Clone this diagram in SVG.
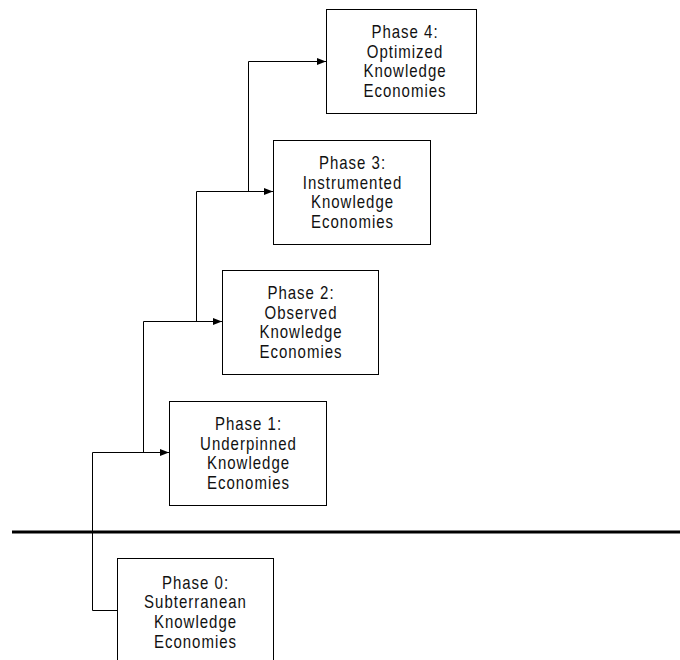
<svg xmlns="http://www.w3.org/2000/svg" width="680" height="660" viewBox="0 0 680 660">
<defs>
<marker id="arr" markerWidth="9" markerHeight="7" refX="9" refY="3.5" orient="auto" markerUnits="userSpaceOnUse">
<path d="M0,0 L9,3.5 L0,7 Z" fill="#000"/>
</marker>
<style>
.box{fill:#fff;stroke:#000;stroke-width:1}
.lbl{font-family:"Liberation Sans",Arial,sans-serif;font-size:15px;letter-spacing:1px;text-anchor:middle;fill:#111}
.con{fill:none;stroke:#000;stroke-width:1}
</style>
</defs>
<rect width="680" height="660" fill="#fff"/>
<line x1="12" y1="532" x2="680" y2="532" stroke="#000" stroke-width="3"/>
<g id="connectors">
<path class="con" d="M117.5,610.5 H92.5 V452.5 H169" marker-end="url(#arr)"/>
<path class="con" d="M143.5,452.5 V321.5 H222" marker-end="url(#arr)"/>
<path class="con" d="M196.5,321.5 V191.5 H273" marker-end="url(#arr)"/>
<path class="con" d="M248.5,191.5 V61.5 H326" marker-end="url(#arr)"/>
</g>
<g id="phase4">
<rect class="box" x="326.5" y="9.5" width="150" height="104"/>
<text class="lbl" transform="translate(405,38) scale(1,1.22)">Phase 4:</text>
<text class="lbl" transform="translate(405,57.7) scale(1,1.22)">Optimized</text>
<text class="lbl" transform="translate(405,77.4) scale(1,1.22)">Knowledge</text>
<text class="lbl" transform="translate(405,97.1) scale(1,1.22)">Economies</text>
</g>
<g id="phase3">
<rect class="box" x="273.5" y="140.5" width="157" height="104"/>
<text class="lbl" transform="translate(352.5,169) scale(1,1.22)">Phase 3:</text>
<text class="lbl" transform="translate(352.5,188.7) scale(1,1.22)">Instrumented</text>
<text class="lbl" transform="translate(352.5,208.4) scale(1,1.22)">Knowledge</text>
<text class="lbl" transform="translate(352.5,228.1) scale(1,1.22)">Economies</text>
</g>
<g id="phase2">
<rect class="box" x="222.5" y="270.5" width="156" height="104"/>
<text class="lbl" transform="translate(301,299) scale(1,1.22)">Phase 2:</text>
<text class="lbl" transform="translate(301,318.7) scale(1,1.22)">Observed</text>
<text class="lbl" transform="translate(301,338.4) scale(1,1.22)">Knowledge</text>
<text class="lbl" transform="translate(301,358.1) scale(1,1.22)">Economies</text>
</g>
<g id="phase1">
<rect class="box" x="169.5" y="401.5" width="157" height="104"/>
<text class="lbl" transform="translate(248.5,430) scale(1,1.22)">Phase 1:</text>
<text class="lbl" transform="translate(248.5,449.7) scale(1,1.22)">Underpinned</text>
<text class="lbl" transform="translate(248.5,469.4) scale(1,1.22)">Knowledge</text>
<text class="lbl" transform="translate(248.5,489.1) scale(1,1.22)">Economies</text>
</g>
<g id="phase0">
<rect class="box" x="117.5" y="558.5" width="156" height="110"/>
<text class="lbl" transform="translate(195.5,588.5) scale(1,1.22)">Phase 0:</text>
<text class="lbl" transform="translate(195.5,608.2) scale(1,1.22)">Subterranean</text>
<text class="lbl" transform="translate(195.5,627.9) scale(1,1.22)">Knowledge</text>
<text class="lbl" transform="translate(195.5,647.6) scale(1,1.22)">Economies</text>
</g>
</svg>
